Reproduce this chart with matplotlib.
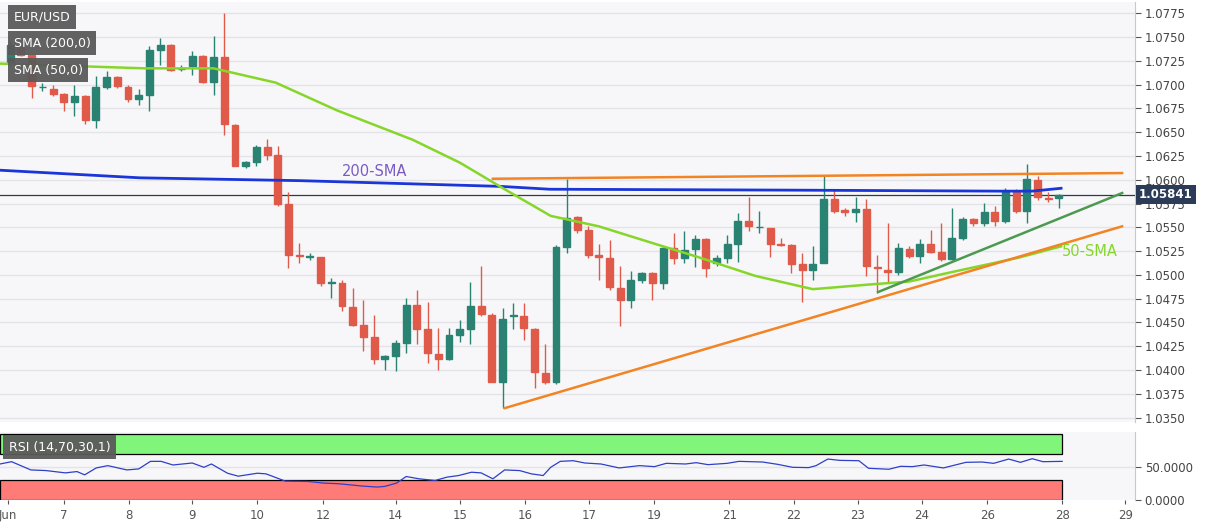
import numpy as np
import matplotlib
matplotlib.use("Agg")
from matplotlib import pyplot as plt
from matplotlib.patches import Rectangle

# candles: open, high, low, close (4h EUR/USD)
opens = [1.0724, 1.0740, 1.0731, 1.0697, 1.0695, 1.0690, 1.0682, 1.0688, 1.0663, 1.0697,
         1.0708, 1.0697, 1.0685, 1.0689, 1.0736, 1.0742, 1.0716, 1.0719, 1.0730, 1.0703,
         1.0729, 1.0658, 1.0614, 1.0619, 1.0634, 1.0626, 1.0575, 1.0521, 1.0519, 1.0519,
         1.0492, 1.0492, 1.0466, 1.0447, 1.0435, 1.0412, 1.0415, 1.0428, 1.0468, 1.0443,
         1.0417, 1.0412, 1.0437, 1.0443, 1.0467, 1.0458, 1.0387, 1.0457, 1.0457, 1.0443,
         1.0397, 1.0387, 1.0529, 1.0561, 1.0547, 1.0521, 1.0518, 1.0486, 1.0474, 1.0495,
         1.0502, 1.0491, 1.0528, 1.0518, 1.0527, 1.0538, 1.0513, 1.0518, 1.0532, 1.0557,
         1.0550, 1.0549, 1.0532, 1.0531, 1.0511, 1.0505, 1.0513, 1.0580, 1.0568, 1.0566,
         1.0569, 1.0508, 1.0505, 1.0503, 1.0527, 1.0520, 1.0532, 1.0524, 1.0517, 1.0539,
         1.0559, 1.0555, 1.0566, 1.0557, 1.0588, 1.0567, 1.0600, 1.0581, 1.0581]
highs = [1.0747, 1.0743, 1.0733, 1.0702, 1.0700, 1.0691, 1.0700, 1.0689, 1.0709, 1.0714,
         1.0709, 1.0700, 1.0695, 1.0740, 1.0749, 1.0743, 1.0721, 1.0735, 1.0731, 1.0751,
         1.0775, 1.0659, 1.0620, 1.0636, 1.0643, 1.0635, 1.0587, 1.0534, 1.0523, 1.0519,
         1.0497, 1.0495, 1.0486, 1.0474, 1.0458, 1.0416, 1.0432, 1.0476, 1.0484, 1.0471,
         1.0444, 1.0444, 1.0453, 1.0493, 1.0509, 1.0460, 1.0465, 1.0470, 1.0470, 1.0444,
         1.0427, 1.0531, 1.0601, 1.0562, 1.0551, 1.0532, 1.0537, 1.0509, 1.0504, 1.0503,
         1.0503, 1.0529, 1.0544, 1.0546, 1.0542, 1.0539, 1.0521, 1.0542, 1.0565, 1.0582,
         1.0567, 1.0549, 1.0539, 1.0532, 1.0523, 1.0530, 1.0605, 1.0589, 1.0570, 1.0582,
         1.0580, 1.0521, 1.0554, 1.0534, 1.0530, 1.0538, 1.0547, 1.0555, 1.0570, 1.0561,
         1.0560, 1.0576, 1.0572, 1.0591, 1.0590, 1.0616, 1.0604, 1.0587, 1.0585]
lows = [1.0722, 1.0730, 1.0686, 1.0693, 1.0688, 1.0672, 1.0667, 1.0659, 1.0654, 1.0695,
        1.0696, 1.0682, 1.0679, 1.0672, 1.0721, 1.0714, 1.0714, 1.0710, 1.0702, 1.0689,
        1.0647, 1.0614, 1.0612, 1.0614, 1.0621, 1.0572, 1.0507, 1.0513, 1.0516, 1.0488,
        1.0476, 1.0462, 1.0446, 1.0420, 1.0406, 1.0400, 1.0399, 1.0418, 1.0427, 1.0407,
        1.0400, 1.0411, 1.0429, 1.0427, 1.0457, 1.0387, 1.0360, 1.0443, 1.0432, 1.0381,
        1.0385, 1.0385, 1.0523, 1.0544, 1.0518, 1.0495, 1.0484, 1.0446, 1.0465, 1.0491,
        1.0474, 1.0485, 1.0511, 1.0513, 1.0508, 1.0498, 1.0509, 1.0513, 1.0514, 1.0546,
        1.0544, 1.0519, 1.0530, 1.0502, 1.0471, 1.0495, 1.0512, 1.0565, 1.0562, 1.0556,
        1.0499, 1.0481, 1.0491, 1.0500, 1.0518, 1.0513, 1.0523, 1.0515, 1.0516, 1.0537,
        1.0551, 1.0551, 1.0551, 1.0555, 1.0565, 1.0554, 1.0579, 1.0577, 1.0570]
closes = [1.0742, 1.0731, 1.0698, 1.0697, 1.0690, 1.0682, 1.0688, 1.0663, 1.0697, 1.0708,
          1.0698, 1.0685, 1.0689, 1.0736, 1.0742, 1.0715, 1.0716, 1.0730, 1.0703, 1.0729,
          1.0659, 1.0614, 1.0619, 1.0634, 1.0626, 1.0575, 1.0521, 1.0520, 1.0519, 1.0491,
          1.0492, 1.0467, 1.0447, 1.0435, 1.0412, 1.0415, 1.0428, 1.0468, 1.0443, 1.0418,
          1.0412, 1.0437, 1.0443, 1.0467, 1.0459, 1.0387, 1.0454, 1.0458, 1.0444, 1.0398,
          1.0387, 1.0529, 1.0560, 1.0547, 1.0521, 1.0519, 1.0487, 1.0474, 1.0495, 1.0502,
          1.0491, 1.0528, 1.0518, 1.0526, 1.0538, 1.0507, 1.0518, 1.0532, 1.0557, 1.0551,
          1.0550, 1.0532, 1.0531, 1.0511, 1.0505, 1.0511, 1.0580, 1.0567, 1.0566, 1.0569,
          1.0509, 1.0507, 1.0503, 1.0528, 1.0520, 1.0532, 1.0524, 1.0517, 1.0539, 1.0559,
          1.0555, 1.0566, 1.0557, 1.0588, 1.0567, 1.0601, 1.0582, 1.0580, 1.0584]

# moving averages (candle index, price)
sma200_x = [-1, 12.1, 27.1, 45.8, 50.4, 73.8, 92.5, 95.5, 98.2]
sma200_y = [1.0610, 1.0602, 1.0599, 1.0593, 1.0590, 1.0589, 1.0588, 1.0588, 1.0591]
sma50_x = [-1, 12.6, 19, 24.8, 30.5, 37.6, 42, 46.2, 50.5, 55, 61, 64.2, 69.6, 75,
           80.4, 84, 87.6, 94.2, 98.2]
sma50_y = [1.0722, 1.0717, 1.0717, 1.0702, 1.0673, 1.0642, 1.0618, 1.0590, 1.0562, 1.0551,
           1.0530, 1.0519, 1.0499, 1.0485, 1.0490, 1.0493, 1.0502, 1.0518, 1.0530]

# trend lines
res_x, res_y = [45.1, 103.9], [1.0601, 1.0607]
sup_x, sup_y = [46.2, 103.9], [1.0360, 1.0551]
sup2_x, sup2_y = [81.1, 103.9], [1.0482, 1.0586]
last_price = 1.05841

rsi_x = [-0.96, 0.12, 1.92, 3.35, 5.15, 6.23, 6.95, 8.03, 9.11, 10.9, 12.0, 13.1, 14.1, 15.2,
         17.0, 18.1, 18.8, 20.3, 21.3, 23.1, 23.9, 25.7, 27.8, 29.3, 30.7, 32.9, 34.3, 35.0,
         36.1, 37.0, 38.2, 39.7, 40.8, 41.9, 43.1, 44.0, 45.1, 46.2, 47.6, 48.7, 49.8, 50.5,
         51.4, 52.6, 53.7, 55.2, 56.9, 58.8, 60.2, 61.3, 63.1, 64.1, 65.2, 67.0, 68.1, 70.3,
         71.7, 73.1, 74.6, 75.3, 76.4, 77.5, 79.3, 80.2, 82.1, 83.2, 84.3, 85.4, 87.2, 89.3,
         90.8, 91.9, 93.3, 94.4, 95.5, 96.5, 98.3]
rsi_y = [55, 58.5, 46, 45, 41.5, 43.5, 38.5, 49, 52.5, 46, 47.5, 59, 59, 53.5,
         56.5, 50, 55, 41, 36.5, 41, 40, 29, 28.5, 26, 25, 21.5, 20, 21,
         26, 36, 32.5, 30, 35, 37.5, 42.5, 41.5, 32.5, 46, 45, 40, 37.5, 50,
         59, 60, 56.5, 55, 49, 52.5, 51, 56, 55, 57, 54, 56, 59, 58,
         54.5, 50, 49.5, 52.5, 62.5, 60.5, 60, 48.5, 47, 51.5, 51, 53.5, 49, 57.5,
         58, 56, 62.5, 57.5, 63, 58.5, 59]

day_pos = [-0.2, 5.0, 11.1, 17.0, 23.1, 29.2, 36.0, 42.0, 48.1, 54.1, 60.2, 67.2, 73.2,
           79.2, 85.2, 91.3, 98.3, 104.2]
day_lab = ["Jun", "7", "8", "9", "10", "12", "14", "15", "16", "17", "19", "21", "22",
           "23", "24", "26", "28", "29"]
price_ticks = np.arange(1.0350, 1.0776, 0.0025)

UP, DN = "#2a8372", "#e05a4a"
BG, GRID = "#f7f7f9", "#e4e4e8"

fig = plt.figure(figsize=(12.07, 5.26), dpi=100)
ax = fig.add_axes([0, 0.198, 0.9403, 0.798])
ax2 = fig.add_axes([0, 0.049, 0.9403, 0.129])
xmin, xmax = -0.96, 105.1

for a in (ax, ax2):
    a.set_facecolor(BG)
    a.set_xlim(xmin, xmax)
    for s in ("top", "left", "bottom"):
        a.spines[s].set_visible(False)
    a.spines["right"].set_color("#c8c8cc")
    a.yaxis.tick_right()
    a.tick_params(axis="y", labelsize=8.5, colors="#555555", length=4, pad=3)
    a.tick_params(axis="y", labelcolor="#444444")

# price panel
ax.set_ylim(1.03456, 1.07866)
ax.set_yticks(price_ticks)
ax.set_yticklabels(["%.4f" % t for t in price_ticks])
ax.grid(axis="y", color=GRID, lw=1)
ax.set_xticks([])
ax.set_axisbelow(True)

w = 0.65
for i in range(len(opens)):
    o, h, l, c = opens[i], highs[i], lows[i], closes[i]
    col = UP if c >= o else DN
    ax.vlines(i, l, h, color=col, lw=1, zorder=3)
    b = max(abs(c - o), 0.00005)
    ax.add_patch(Rectangle((i - w / 2, min(o, c)), w, b, color=col, zorder=4))

ax.plot(sma200_x, sma200_y, color="#1a35d8", lw=2, zorder=5)
ax.plot(sma50_x, sma50_y, color="#86d62a", lw=1.8, zorder=5)
ax.plot(res_x, res_y, color="#f28424", lw=1.8, zorder=5)
ax.plot(sup_x, sup_y, color="#f28424", lw=1.8, zorder=5)
ax.plot(sup2_x, sup2_y, color="#4c9a50", lw=1.8, zorder=5)
ax.axhline(last_price, color="#2e3a4e", lw=0.9, zorder=2)

ax.text(31, 1.0604, "200-SMA", color="#7a5cc4", fontsize=10.5, zorder=6)
ax.text(98.3, 1.0520, "50-SMA", color="#86d62a", fontsize=10.5, zorder=6)

ax.text(1.0035, last_price, "1.05841", transform=ax.get_yaxis_transform(), ha="left",
        va="center", fontsize=8.5, fontweight="bold", color="white", zorder=7, clip_on=False,
        bbox=dict(boxstyle="square,pad=0.25", fc="#2c3b57", ec="none"))

# legend boxes
def box(a, x, y, txt, bar=None):
    a.text(x, y, txt, transform=a.transAxes, fontsize=9, color="white", va="center",
           ha="left", zorder=8,
           bbox=dict(boxstyle="square,pad=0.45", fc="#5a5a5a", ec="none", alpha=0.95))

box(ax, 0.012, 0.965, "EUR/USD")
box(ax, 0.012, 0.902, "SMA (200,0)")
box(ax, 0.012, 0.838, "SMA (50,0)")

# RSI panel
ax2.set_ylim(0, 103)
ax2.add_patch(Rectangle((xmin, 70), 98.3 - xmin, 30, fc="#80f57a", ec="black", lw=0.9, zorder=1))
ax2.add_patch(Rectangle((xmin, 0), 98.3 - xmin, 30, fc="#ff7b78", ec="black", lw=0.9, zorder=1))
ax2.plot(rsi_x, rsi_y, color="#2f3fc8", lw=0.9, zorder=3)
ax2.axhline(50, color=GRID, lw=1, zorder=0)
ax2.set_yticks([0, 50])
ax2.set_yticklabels(["0.0000", "50.0000"])
ax2.set_xticks(day_pos)
ax2.set_xticklabels(day_lab)
ax2.tick_params(axis="x", labelsize=8.5, colors="#555555", length=3, pad=3)
box(ax2, 0.008, 0.78, "RSI (14,70,30,1)")

fig.savefig("out.png", dpi=100, facecolor="white")
